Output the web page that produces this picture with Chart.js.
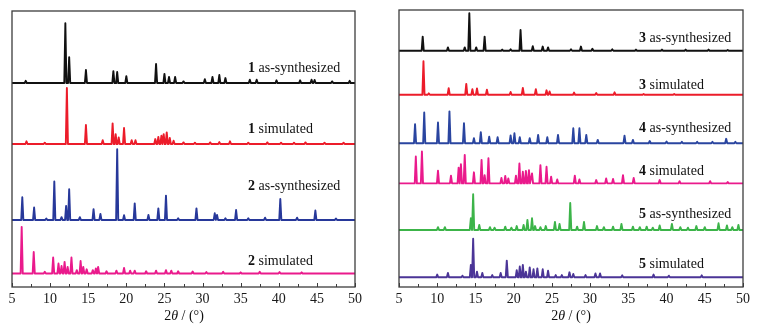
<!DOCTYPE html>
<html>
<head>
<meta charset="utf-8">
<script src="https://cdn.jsdelivr.net/npm/chart.js@4.4.0/dist/chart.umd.min.js"></script>
<style>
    body { margin: 0; background: #fff; width: 757px; height: 330px; position: relative; overflow: hidden; font-family: "Liberation Serif", "DejaVu Serif", serif; }
    canvas { position: absolute; top: 0; }
    .lbl { position: absolute; font-size: 14px; color: #111; white-space: nowrap; line-height: 1; transform: translateY(-50%); }
    .xt { position: absolute; top: 316px; font-size: 14px; color: #111; white-space: nowrap; transform: translate(-50%, -50%); }
</style>
</head>
<body>
<canvas id="left" width="378" height="330" style="left:0"></canvas>
<canvas id="right" width="377" height="330" style="left:380px"></canvas>

<div class="lbl" style="left:248px;top:68px"><b>1</b> as-synthesized</div>
<div class="lbl" style="left:248px;top:129px"><b>1</b> simulated</div>
<div class="lbl" style="left:248px;top:186px"><b>2</b> as-synthesized</div>
<div class="lbl" style="left:248px;top:261px"><b>2</b> simulated</div>

<div class="lbl" style="left:639px;top:38px"><b>3</b> as-synthesized</div>
<div class="lbl" style="left:639px;top:85px"><b>3</b> simulated</div>
<div class="lbl" style="left:639px;top:128px"><b>4</b> as-synthesized</div>
<div class="lbl" style="left:639px;top:171px"><b>4</b> simulated</div>
<div class="lbl" style="left:639px;top:214px"><b>5</b> as-synthesized</div>
<div class="lbl" style="left:639px;top:264px"><b>5</b> simulated</div>

<div class="xt" style="left:184px">2<i>θ</i> / (°)</div>
<div class="xt" style="left:571px">2<i>θ</i> / (°)</div>

<script>
// ejes
const xTicks = [5, 10, 15, 20, 25, 30, 35, 40, 45, 50];
const minorTicks = [7.5, 12.5, 17.5, 22.5, 27.5, 32.5, 37.5, 42.5, 47.5];

// 1 as-synthesized (posición 2θ, altura del pico, línea base)
const pos1a = [6.8, 12.0, 12.5, 14.7, 18.3, 18.8, 20.0, 23.9, 25.0, 25.6, 26.4, 27.5, 30.3, 31.3, 32.2, 33.0, 36.2, 37.1, 39.7, 42.8, 44.3, 44.7, 47.0, 49.3];
const int1a = [0.8, 21.7, 9.4, 4.7, 4.3, 4.0, 2.5, 6.9, 3.3, 2.2, 2.2, 0.6, 1.4, 2.2, 2.9, 1.8, 1.2, 1.2, 1.0, 1.0, 1.2, 1.1, 0.6, 0.8];
const base1a = 73.9;

// 1 simulated
const pos1s = [6.9, 9.3, 12.2, 14.7, 16.9, 18.2, 18.6, 19.0, 19.7, 20.7, 21.2, 23.8, 24.2, 24.6, 24.9, 25.3, 25.7, 26.2, 27.5, 29.0, 31.0, 32.2, 33.6, 36.0, 38.5, 40.3, 42.0, 43.5, 46.0, 48.5];
const int1s = [1.0, 0.5, 20.3, 6.9, 1.4, 7.5, 3.6, 2.4, 5.8, 1.4, 1.4, 1.8, 2.6, 3.0, 3.6, 4.2, 2.2, 1.2, 0.6, 0.5, 0.6, 0.7, 1.0, 0.5, 0.6, 0.5, 0.5, 0.6, 0.5, 0.5];
const base1s = 51.8;

// 2 as-synthesized
const pos2a = [6.35, 7.9, 9.5, 10.55, 11.5, 12.1, 12.5, 13.9, 15.7, 16.6, 18.8, 19.7, 21.1, 22.9, 24.2, 25.2, 26.8, 29.2, 31.6, 31.9, 33.0, 34.4, 36.0, 38.2, 40.2, 42.4, 44.8, 47.5];
const int2a = [8.2, 4.5, 0.5, 13.9, 1.0, 5.1, 11.1, 1.0, 3.9, 2.2, 25.6, 1.7, 6.0, 1.8, 4.2, 8.8, 0.6, 4.2, 2.4, 1.8, 0.6, 3.6, 0.6, 0.8, 7.6, 0.8, 3.4, 0.5];
const base2a = 24.3;

// 2 simulated
const pos2s = [6.27, 7.85, 9.3, 10.4, 11.1, 11.5, 11.9, 12.3, 12.8, 13.5, 14.0, 14.35, 14.8, 15.6, 16.0, 16.3, 17.4, 18.7, 19.7, 20.5, 21.1, 22.6, 23.9, 25.2, 25.9, 26.8, 28.7, 30.5, 32.7, 35.0, 37.5, 40.1, 43.0];
const int2s = [16.9, 7.8, 0.6, 5.8, 3.6, 2.7, 4.2, 2.4, 5.8, 1.2, 4.5, 2.4, 1.5, 1.2, 1.8, 2.4, 0.8, 1.0, 2.0, 1.0, 1.0, 0.8, 1.0, 1.2, 1.0, 0.8, 0.7, 0.5, 0.6, 0.4, 0.6, 0.5, 0.4];
const base2s = 4.9;

// 3 as-synthesized
const pos3a = [8.1, 11.4, 13.6, 14.2, 15.1, 16.2, 18.5, 19.6, 20.9, 22.5, 23.8, 24.5, 27.5, 28.8, 30.3, 32.9, 36.0, 39.4, 42.5, 45.5, 48.0];
const int3a = [5.1, 1.2, 1.2, 13.5, 1.2, 5.1, 0.4, 0.5, 7.5, 1.6, 1.5, 1.2, 0.5, 1.5, 0.7, 0.5, 0.4, 0.4, 0.4, 0.4, 0.3];
const base3a = 85.3;

// 3 simulated
const pos3s = [8.2, 8.9, 11.5, 13.8, 14.6, 15.2, 16.5, 19.6, 21.2, 22.9, 24.3, 24.7, 27.9, 30.8, 33.2, 37.0, 41.0];
const int3s = [12.1, 0.5, 2.4, 3.9, 2.0, 2.3, 1.8, 1.0, 2.5, 2.0, 1.6, 1.2, 0.8, 0.6, 0.9, 0.3, 0.3];
const base3s = 69.4;

// 4 as-synthesized
const pos4a = [7.1, 8.3, 10.1, 11.6, 13.5, 14.8, 15.7, 16.8, 17.9, 19.6, 20.1, 20.8, 22.1, 23.2, 24.4, 25.8, 27.8, 28.6, 29.5, 31.0, 34.5, 35.6, 37.8, 40.0, 42.0, 44.0, 46.0, 47.8, 49.0];
const int4a = [6.9, 11.1, 7.5, 11.5, 7.2, 1.8, 4.0, 2.4, 2.2, 2.8, 3.6, 2.2, 1.8, 3.0, 2.2, 3.0, 5.4, 5.4, 3.0, 1.2, 2.7, 1.2, 0.8, 0.6, 0.5, 0.5, 0.5, 1.6, 0.5];
const base4a = 51.9;

// 4 simulated
const pos4s = [7.2, 8.0, 10.1, 11.8, 12.8, 13.1, 13.6, 14.8, 15.8, 16.2, 16.7, 18.4, 18.9, 19.3, 20.3, 20.75, 21.2, 21.6, 22.0, 22.4, 23.5, 24.3, 24.9, 25.7, 28.0, 28.6, 30.8, 32.1, 33.0, 34.3, 35.7, 39.1, 41.7, 45.7, 48.0];
const int4s = [9.7, 11.5, 4.6, 2.8, 5.7, 6.9, 10.3, 4.0, 8.5, 3.0, 9.1, 2.0, 2.7, 1.8, 2.8, 7.2, 4.2, 4.5, 4.8, 3.6, 6.6, 6.0, 2.4, 1.4, 2.8, 1.4, 1.2, 1.8, 1.6, 3.0, 2.0, 1.2, 0.8, 0.8, 0.5];
const base4s = 37.4;

// 5 as-synthesized
const pos5a = [10.1, 11.0, 14.4, 14.7, 15.5, 16.9, 17.5, 18.9, 19.7, 20.4, 21.3, 21.8, 22.4, 22.8, 23.5, 24.2, 25.4, 26.0, 27.4, 28.3, 29.2, 30.9, 31.8, 33.0, 34.1, 35.6, 36.5, 37.4, 38.2, 39.1, 40.7, 41.8, 42.8, 43.9, 45.0, 46.8, 47.9, 48.6, 49.4];
const int5a = [1.0, 1.0, 4.2, 12.9, 1.8, 1.0, 0.8, 1.2, 0.8, 1.4, 1.8, 3.6, 4.2, 1.4, 1.0, 1.4, 2.9, 2.2, 9.7, 1.2, 2.9, 1.4, 1.0, 1.2, 2.2, 1.2, 1.0, 1.2, 0.8, 1.6, 2.2, 1.0, 0.8, 1.4, 1.0, 2.4, 1.6, 1.0, 1.8];
const base5a = 20.6;

// 5 simulated
const pos5s = [10.0, 11.4, 13.3, 14.4, 14.7, 15.2, 15.9, 17.2, 18.3, 19.1, 20.4, 20.8, 21.2, 21.6, 22.1, 22.6, 23.1, 23.8, 24.5, 25.5, 26.3, 27.3, 27.8, 29.4, 30.7, 31.3, 34.2, 38.3, 40.3, 44.6];
const int5s = [1.0, 1.6, 0.6, 4.5, 13.9, 2.0, 1.6, 0.8, 1.6, 6.0, 2.6, 3.9, 4.5, 2.0, 3.6, 2.9, 3.2, 2.9, 2.4, 0.8, 0.8, 1.8, 1.2, 0.8, 1.4, 1.4, 0.7, 1.0, 0.6, 0.7];
const base5s = 3.5;

// Construye la traza: base, pico, base para cada reflexión
function traza(pos, alt, base) {
    const w = 0.14;
    const pts = [{ x: 5, y: base }];
    pos.forEach((p, i) => {
        pts.push({ x: p - w, y: base });
        pts.push({ x: p, y: base + alt[i] });
        pts.push({ x: p + w, y: base });
    });
    pts.push({ x: 50, y: base });
    return pts;
}

function serie(pos, alt, base, color) {
    return {
        data: traza(pos, alt, base),
        borderColor: color,
        borderWidth: 1.9,
        borderJoinStyle: 'round',
        pointRadius: 0,
        tension: 0,
        fill: false
    };
}

// Marco y marcas hacia dentro
const marco = {
    id: 'marco',
    afterDatasetsDraw(chart) {
        const { ctx, chartArea: a, scales: { x } } = chart;
        ctx.save();
        ctx.strokeStyle = '#3c3c3c';
        ctx.lineWidth = 1.3;
        ctx.strokeRect(a.left, a.top, a.right - a.left, a.bottom - a.top);
        ctx.lineWidth = 1;
        xTicks.concat(minorTicks).forEach(v => {
            const px = Math.round(x.getPixelForValue(v)) + 0.5;
            ctx.beginPath();
            ctx.moveTo(px, a.bottom);
            ctx.lineTo(px, a.bottom - (xTicks.includes(v) ? 4 : 3));
            ctx.stroke();
        });
        ctx.restore();
    }
};

function crearGrafico(id, datasets, padding) {
    new Chart(document.getElementById(id), {
        type: 'line',
        data: { datasets: datasets },
        options: {
            responsive: false,
            animation: false,
            layout: { padding: padding },
            plugins: { legend: { display: false }, tooltip: { enabled: false } },
            scales: {
                x: {
                    type: 'linear',
                    min: 5,
                    max: 50,
                    afterFit: s => { s.height = 43; },
                    afterBuildTicks: s => { s.ticks = xTicks.map(v => ({ value: v })); },
                    grid: { display: false, drawTicks: false },
                    border: { display: false },
                    ticks: {
                        padding: 4,
                        maxRotation: 0,
                        color: '#1a1a1a',
                        font: { family: 'Liberation Serif', size: 14 }
                    }
                },
                y: {
                    display: false,
                    min: 0,
                    max: 100
                }
            }
        },
        plugins: [marco]
    });
}

crearGrafico('left', [
    serie(pos1a, int1a, base1a, '#111111'),
    serie(pos1s, int1s, base1s, '#ec1c2a'),
    serie(pos2a, int2a, base2a, '#27389a'),
    serie(pos2s, int2s, base2s, '#ea1a8c')
], { left: 12, right: 23, top: 11, bottom: 0 });

crearGrafico('right', [
    serie(pos3a, int3a, base3a, '#111111'),
    serie(pos3s, int3s, base3s, '#ec1c2a'),
    serie(pos4a, int4a, base4a, '#2a45a0'),
    serie(pos4s, int4s, base4s, '#ea1a8c'),
    serie(pos5a, int5a, base5a, '#3cb449'),
    serie(pos5s, int5s, base5s, '#4b3597')
], { left: 19, right: 14, top: 10, bottom: 0 });
</script>
</body>
</html>
